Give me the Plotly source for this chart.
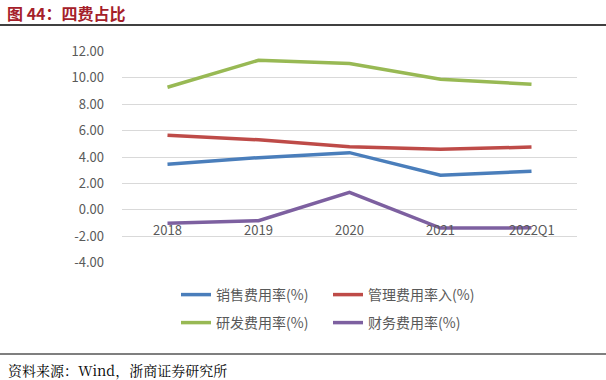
import plotly.graph_objects as go

categories = ["2018", "2019", "2020", "2021", "2022Q1"]
sales = [3.45, 3.95, 4.33, 2.62, 2.92]
admin = [5.65, 5.30, 4.78, 4.58, 4.75]
rnd = [9.28, 11.32, 11.07, 9.88, 9.50]
fin = [-1.02, -0.82, 1.33, -1.38, -1.36]
yticks = [-4, -2, 0, 2, 4, 6, 8, 10, 12]

names = ["销售费用率(%)", "管理费用率入(%)", "研发费用率(%)", "财务费用率(%)"]
colors = ["#4a7ebb", "#be4b48", "#98b954", "#7d60a0"]
series = [sales, admin, rnd, fin]
legends = ["legend", "legend", "legend2", "legend2"]

W, H = 606, 380
L, R, T, B = 122, 577, 51, 263


def px(x):
    return (x - L) / (R - L)


def py(y):
    return (B - y) / (B - T)


fig = go.Figure()
for n, c, s, lg in zip(names, colors, series, legends):
    fig.add_trace(go.Scatter(x=categories, y=s, name=n, mode="lines",
                             line=dict(color=c, width=3.5), legend=lg))

grey = "#595959"
font_cjk = "Noto Sans CJK SC"

for i, cat in enumerate(categories):
    fig.add_annotation(x=i, y=0, xref="x", yref="y", text=cat, showarrow=False,
                       yanchor="top", yshift=-8,
                       font=dict(family=font_cjk, size=13, color=grey))

fig.add_annotation(x=px(5), y=py(13), xref="paper", yref="paper",
                   text="<b>图 44：四费占比</b>", showarrow=False,
                   xanchor="left", yanchor="middle",
                   font=dict(family=font_cjk, size=16, color="#a5202a"))
fig.add_annotation(x=px(6), y=py(370), xref="paper", yref="paper",
                   text="资料来源：Wind，浙商证券研究所", showarrow=False,
                   xanchor="left", yanchor="middle",
                   font=dict(family="Noto Serif CJK SC, Liberation Serif, serif", size=14, color="#000000"))
fig.add_shape(type="line", xref="paper", yref="paper",
              x0=px(0), x1=px(606), y0=py(25), y1=py(25),
              line=dict(color="#000000", width=1.5))
fig.add_shape(type="line", xref="paper", yref="paper",
              x0=px(0), x1=px(606), y0=py(354), y1=py(354),
              line=dict(color="#000000", width=1.2))

legend_common = dict(orientation="h", xanchor="left", yanchor="middle",
                     font=dict(family=font_cjk, size=14, color=grey),
                     bgcolor="rgba(0,0,0,0)", entrywidth=107, entrywidthmode="pixels",
                     itemwidth=30)

fig.update_layout(
    width=W, height=H,
    margin=dict(l=L, r=W - R, t=T, b=H - B, pad=0),
    plot_bgcolor="white", paper_bgcolor="white",
    showlegend=True,
    legend=dict(x=px(176), y=py(295), **legend_common),
    legend2=dict(x=px(176), y=py(323), **legend_common),
    xaxis=dict(type="category", showticklabels=False, showgrid=False, zeroline=False,
               showline=False, ticks="", range=[-0.5, 4.5]),
    yaxis=dict(range=[-4.02, 12.02], tickvals=yticks,
               ticktext=[f"{v:.2f}" for v in yticks],
               showgrid=True, gridcolor="#d9d9d9", gridwidth=1,
               zeroline=False, showline=False, ticks="", ticklabelstandoff=17,
               tickfont=dict(family=font_cjk, size=13, color=grey)),
)

fig.write_html("out.html", config={"displayModeBar": False},
               post_script="document.body.style.margin='0';")
